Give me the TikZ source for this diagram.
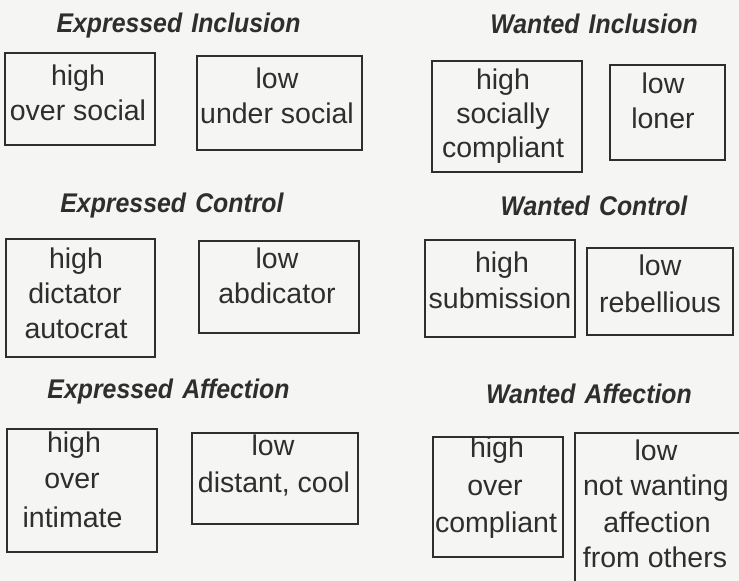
\documentclass[tikz,border=0pt]{standalone}
\usepackage{fontspec}
\usepackage{graphicx}
\setmainfont{Liberation Sans}
\begin{document}
\definecolor{ink}{HTML}{2E2E2E}
\definecolor{paper}{HTML}{F5F5F3}
\newcommand\heading[2]{\scalebox{0.92}[1]{#1\hspace{10pt}#2}}
\begin{tikzpicture}[x=1pt,y=-1pt,
  box/.style={draw=ink, line width=1.8pt, inner sep=0pt},
  ttl/.style={anchor=base, inner sep=0pt, text=ink,
    font=\fontsize{27}{32}\selectfont\bfseries\itshape},
  ln/.style={anchor=base, inner sep=0pt, text=ink,
    font=\fontsize{28.5}{34}\selectfont}]
\useasboundingbox (0,0) rectangle (739,581);
\fill[paper] (0,0) rectangle (739,581);
\begin{scope}
\clip (0,0) rectangle (739,581);

% headings
\node[ttl] (t1) at (178.5,32) {\heading{Expressed}{Inclusion}};
\node[ttl] (t2) at (594,33) {\heading{Wanted}{Inclusion}};
\node[ttl] (t3) at (172,212) {\heading{Expressed}{Control}};
\node[ttl] (t4) at (594,215) {\heading{Wanted}{Control}};
\node[ttl] (t5) at (168.5,398) {\heading{Expressed}{Affection}};
\node[ttl] (t6) at (589,403) {\heading{Wanted}{Affection}};

% frames
\node[box, minimum width=150pt, minimum height=92pt]  (b1)  at (80,99) {};
\node[box, minimum width=165pt, minimum height=94pt]  (b2)  at (279.5,103) {};
\node[box, minimum width=150pt, minimum height=111pt] (b3)  at (507,116.5) {};
\node[box, minimum width=115pt, minimum height=95pt]  (b4)  at (667.5,112.5) {};
\node[box, minimum width=149pt, minimum height=118pt] (b5)  at (80.5,298) {};
\node[box, minimum width=160pt, minimum height=92pt]  (b6)  at (279,287) {};
\node[box, minimum width=150pt, minimum height=97pt]  (b7)  at (500,288.5) {};
\node[box, minimum width=146pt, minimum height=87pt]  (b8)  at (660,291.5) {};
\node[box, minimum width=150pt, minimum height=123pt] (b9)  at (82,490.5) {};
\node[box, minimum width=166pt, minimum height=91pt]  (b10) at (275,478.5) {};
\node[box, minimum width=130pt, minimum height=120pt] (b11) at (498,497) {};
% this frame runs on past the right and bottom edges: only its
% left and top sides fall inside the picture
\node[inner sep=0pt, minimum width=200pt, minimum height=200pt] (b12) at (675,533) {};
\draw[ink, line width=1.8pt] (b12.south west) -- (b12.north west) -- (b12.north east);

% frame texts
\node[ln] (b1a) at (78,85)  {high};
\node[ln] (b1b) at (78,120) {over\ social};
\node[ln] (b2a) at (277,88)  {low};
\node[ln] (b2b) at (277,123) {under social};
\node[ln] (b3a) at (503,89)  {high};
\node[ln] (b3b) at (503,123) {socially};
\node[ln] (b3c) at (503,157) {compliant};
\node[ln] (b4a) at (663,93)  {low};
\node[ln] (b4b) at (663,128) {loner};
\node[ln] (b5a) at (76,268) {high};
\node[ln] (b5b) at (75,303) {dictator};
\node[ln] (b5c) at (76,338) {autocrat};
\node[ln] (b6a) at (277,268) {low};
\node[ln] (b6b) at (277,303) {abdicator};
\node[ln] (b7a) at (502,272) {high};
\node[ln] (b7b) at (500,308) {submission};
\node[ln] (b8a) at (660,275) {low};
\node[ln] (b8b) at (660,312) {rebellious};
\node[ln] (b9a) at (74,452) {high};
\node[ln] (b9b) at (72,488) {over};
\node[ln] (b9c) at (72.5,527) {intimate};
\node[ln] (b10a) at (273,455) {low};
\node[ln] (b10b) at (274,492) {distant,\ cool};
\node[ln] (b11a) at (497,457) {high};
\node[ln] (b11b) at (495,495) {over};
\node[ln] (b11c) at (496,532) {compliant};
\node[ln] (b12a) at (656,460) {low};
\node[ln] (b12b) at (656,495) {not\ wanting};
\node[ln] (b12c) at (657,532) {affection};
\node[ln] (b12d) at (655,567) {from\ others};
\end{scope}
\end{tikzpicture}
\end{document}
